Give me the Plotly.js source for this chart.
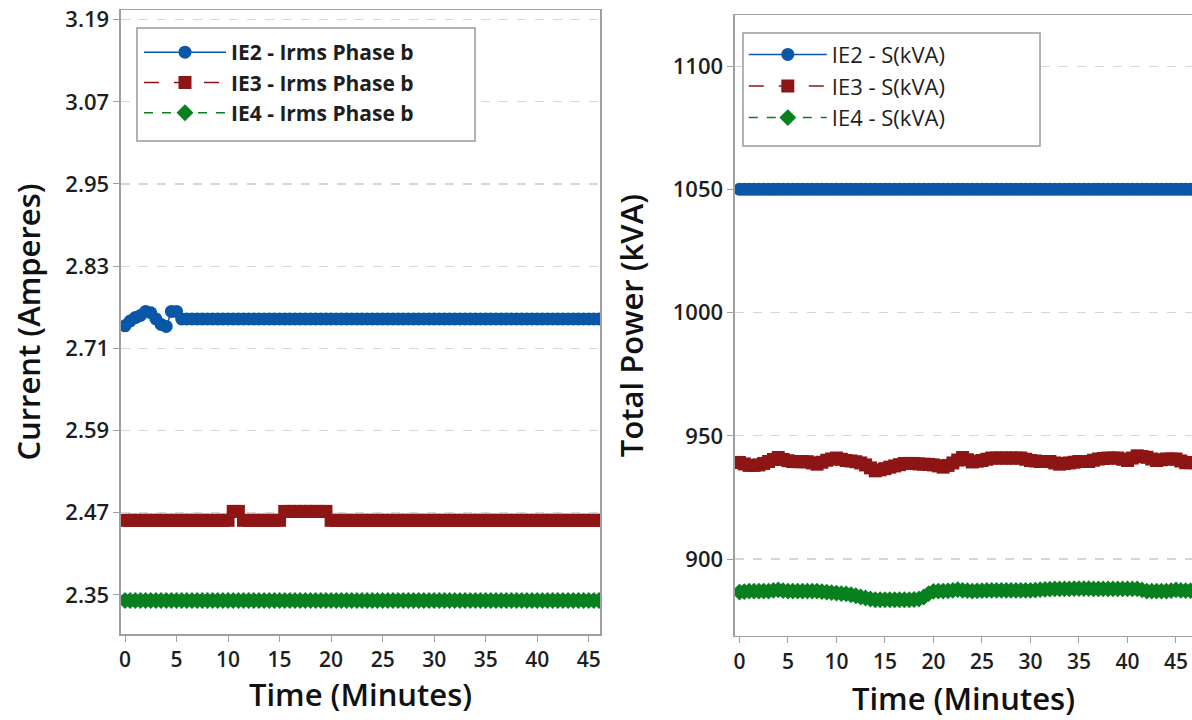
<!DOCTYPE html>
<html>
<head>
<meta charset="utf-8">
<script src="https://cdn.plot.ly/plotly-3.0.1.min.js"></script>
<style>
  html, body { margin: 0; padding: 0; background: #fff; }
  #chart { width: 1192px; height: 720px; }
</style>
</head>
<body>
<div id="chart"></div>
<script>
// Sample times, one reading every half minute (each row covers 5 minutes)
const minutes = [
  0, 0.5, 1, 1.5, 2, 2.5, 3, 3.5, 4, 4.5,
  5, 5.5, 6, 6.5, 7, 7.5, 8, 8.5, 9, 9.5,
  10, 10.5, 11, 11.5, 12, 12.5, 13, 13.5, 14, 14.5,
  15, 15.5, 16, 16.5, 17, 17.5, 18, 18.5, 19, 19.5,
  20, 20.5, 21, 21.5, 22, 22.5, 23, 23.5, 24, 24.5,
  25, 25.5, 26, 26.5, 27, 27.5, 28, 28.5, 29, 29.5,
  30, 30.5, 31, 31.5, 32, 32.5, 33, 33.5, 34, 34.5,
  35, 35.5, 36, 36.5, 37, 37.5, 38, 38.5, 39, 39.5,
  40, 40.5, 41, 41.5, 42, 42.5, 43, 43.5, 44, 44.5,
  45, 45.5, 46, 46.5, 47
];

// Phase b RMS current (A)
const irmsIE2 = [
  2.743, 2.750, 2.755, 2.758, 2.764, 2.762, 2.753, 2.745, 2.742, 2.764,
  2.764, 2.753, 2.753, 2.753, 2.753, 2.753, 2.753, 2.753, 2.753, 2.753,
  2.753, 2.753, 2.753, 2.753, 2.753, 2.753, 2.753, 2.753, 2.753, 2.753,
  2.753, 2.753, 2.753, 2.753, 2.753, 2.753, 2.753, 2.753, 2.753, 2.753,
  2.753, 2.753, 2.753, 2.753, 2.753, 2.753, 2.753, 2.753, 2.753, 2.753,
  2.753, 2.753, 2.753, 2.753, 2.753, 2.753, 2.753, 2.753, 2.753, 2.753,
  2.753, 2.753, 2.753, 2.753, 2.753, 2.753, 2.753, 2.753, 2.753, 2.753,
  2.753, 2.753, 2.753, 2.753, 2.753, 2.753, 2.753, 2.753, 2.753, 2.753,
  2.753, 2.753, 2.753, 2.753, 2.753, 2.753, 2.753, 2.753, 2.753, 2.753,
  2.753, 2.753, 2.753, 2.753, 2.753
];
const irmsIE3 = [
  2.459, 2.459, 2.459, 2.459, 2.459, 2.459, 2.459, 2.459, 2.459, 2.459,
  2.459, 2.459, 2.459, 2.459, 2.459, 2.459, 2.459, 2.459, 2.459, 2.459,
  2.459, 2.472, 2.472, 2.459, 2.459, 2.459, 2.459, 2.459, 2.459, 2.459,
  2.459, 2.472, 2.472, 2.472, 2.472, 2.472, 2.472, 2.472, 2.472, 2.472,
  2.459, 2.459, 2.459, 2.459, 2.459, 2.459, 2.459, 2.459, 2.459, 2.459,
  2.459, 2.459, 2.459, 2.459, 2.459, 2.459, 2.459, 2.459, 2.459, 2.459,
  2.459, 2.459, 2.459, 2.459, 2.459, 2.459, 2.459, 2.459, 2.459, 2.459,
  2.459, 2.459, 2.459, 2.459, 2.459, 2.459, 2.459, 2.459, 2.459, 2.459,
  2.459, 2.459, 2.459, 2.459, 2.459, 2.459, 2.459, 2.459, 2.459, 2.459,
  2.459, 2.459, 2.459, 2.459, 2.459
];
const irmsIE4 = [
  2.342, 2.342, 2.342, 2.342, 2.342, 2.342, 2.342, 2.342, 2.342, 2.342,
  2.342, 2.342, 2.342, 2.342, 2.342, 2.342, 2.342, 2.342, 2.342, 2.342,
  2.342, 2.342, 2.342, 2.342, 2.342, 2.342, 2.342, 2.342, 2.342, 2.342,
  2.342, 2.342, 2.342, 2.342, 2.342, 2.342, 2.342, 2.342, 2.342, 2.342,
  2.342, 2.342, 2.342, 2.342, 2.342, 2.342, 2.342, 2.342, 2.342, 2.342,
  2.342, 2.342, 2.342, 2.342, 2.342, 2.342, 2.342, 2.342, 2.342, 2.342,
  2.342, 2.342, 2.342, 2.342, 2.342, 2.342, 2.342, 2.342, 2.342, 2.342,
  2.342, 2.342, 2.342, 2.342, 2.342, 2.342, 2.342, 2.342, 2.342, 2.342,
  2.342, 2.342, 2.342, 2.342, 2.342, 2.342, 2.342, 2.342, 2.342, 2.342,
  2.342, 2.342, 2.342, 2.342, 2.342
];

// Apparent power S (kVA)
const sIE2 = [
  1050, 1050, 1050, 1050, 1050, 1050, 1050, 1050, 1050, 1050,
  1050, 1050, 1050, 1050, 1050, 1050, 1050, 1050, 1050, 1050,
  1050, 1050, 1050, 1050, 1050, 1050, 1050, 1050, 1050, 1050,
  1050, 1050, 1050, 1050, 1050, 1050, 1050, 1050, 1050, 1050,
  1050, 1050, 1050, 1050, 1050, 1050, 1050, 1050, 1050, 1050,
  1050, 1050, 1050, 1050, 1050, 1050, 1050, 1050, 1050, 1050,
  1050, 1050, 1050, 1050, 1050, 1050, 1050, 1050, 1050, 1050,
  1050, 1050, 1050, 1050, 1050, 1050, 1050, 1050, 1050, 1050,
  1050, 1050, 1050, 1050, 1050, 1050, 1050, 1050, 1050, 1050,
  1050, 1050, 1050, 1050, 1050
];
const sIE3 = [
  939.2, 938.6, 938.0, 938.0, 938.2, 938.8, 939.6, 940.4, 941.2, 940.4,
  939.9, 939.6, 939.5, 939.5, 939.5, 939.0, 938.5, 939.3, 940.1, 940.6,
  941.0, 940.5, 940.0, 939.8, 939.5, 939.0, 938.2, 937.0, 935.8, 936.2,
  936.7, 937.3, 937.8, 938.3, 938.8, 938.8, 938.8, 938.6, 938.5, 938.4,
  938.2, 937.8, 937.3, 938.0, 939.0, 940.2, 941.2, 940.3, 939.4, 939.7,
  940.0, 940.5, 941.0, 941.0, 941.0, 941.0, 941.0, 941.0, 941.0, 940.5,
  940.0, 939.8, 939.6, 939.6, 939.6, 939.0, 938.5, 938.8, 939.0, 939.3,
  939.6, 939.6, 939.6, 940.1, 940.6, 940.8, 941.0, 941.0, 941.0, 940.5,
  940.0, 941.0, 941.9, 941.6, 941.3, 940.6, 940.0, 940.3, 940.6, 940.6,
  940.6, 939.8, 939.1, 939.1, 939.1
];
const sIE4 = [
  886.6, 886.8, 887.0, 887.0, 887.0, 887.0, 887.0, 887.3, 887.5, 887.2,
  887.0, 887.0, 887.0, 887.0, 887.0, 887.0, 887.0, 886.8, 886.6, 886.4,
  886.2, 886.0, 885.9, 885.5, 885.1, 884.6, 884.2, 883.8, 883.5, 883.5,
  883.5, 883.5, 883.5, 883.5, 883.5, 883.5, 883.6, 883.8, 884.6, 886.0,
  886.9, 887.0, 887.0, 887.1, 887.3, 887.6, 887.3, 887.2, 887.0, 887.1,
  887.2, 887.3, 887.3, 887.3, 887.3, 887.3, 887.3, 887.3, 887.3, 887.3,
  887.3, 887.4, 887.6, 887.7, 887.8, 887.9, 887.9, 887.9, 887.9, 888.0,
  888.0, 888.0, 888.0, 887.9, 887.9, 887.9, 887.9, 887.9, 887.9, 887.9,
  887.9, 887.9, 887.9, 887.5, 887.0, 887.0, 887.0, 887.0, 887.0, 887.2,
  887.5, 887.3, 887.2, 887.2, 887.2
];

const currentTicks = [2.35, 2.47, 2.59, 2.71, 2.83, 2.95, 3.07, 3.19];
const powerTicks = [900, 950, 1000, 1050, 1100];
const timeTicks = [0, 5, 10, 15, 20, 25, 30, 35, 40, 45];

const BLUE = '#0a57a8';
const RED = '#8e1515';
const GREEN = '#08801f';
const FONT = '"Open Sans", "Noto Sans", sans-serif';

function series(x, y, name, color, symbol, dash, xa, ya, legend) {
  return {
    type: 'scatter', mode: 'lines+markers',
    x: x, y: y, name: name,
    xaxis: xa, yaxis: ya, legend: legend,
    line: {color: color, width: 1.5, dash: dash},
    marker: {color: color, symbol: symbol, size: 13}
  };
}

const traces = [
  series(minutes, irmsIE2, 'IE2 - Irms Phase b', BLUE, 'circle', 'solid', 'x', 'y', 'legend'),
  series(minutes, irmsIE3, 'IE3 - Irms Phase b', RED, 'square', 'longdash', 'x', 'y', 'legend'),
  series(minutes, irmsIE4, 'IE4 - Irms Phase b', GREEN, 'diamond', 'dash', 'x', 'y', 'legend'),
  series(minutes, sIE2, 'IE2 - S(kVA)', BLUE, 'circle', 'solid', 'x2', 'y2', 'legend2'),
  series(minutes, sIE3, 'IE3 - S(kVA)', RED, 'square', 'longdash', 'x2', 'y2', 'legend2'),
  series(minutes, sIE4, 'IE4 - S(kVA)', GREEN, 'diamond', 'dash', 'x2', 'y2', 'legend2')
];

const xTickFont = {family: FONT, size: 21, color: '#1e1e1e', weight: 600};
const yTickFont = {family: FONT, size: 22, color: '#1e1e1e', weight: 600};
const titleFont = {family: FONT, size: 31, color: '#111', weight: 600};

function xAxis(domain, range, anchor, standoff) {
  return {
    domain: domain, range: range, anchor: anchor,
    tickmode: 'array', tickvals: timeTicks,
    ticks: 'outside', ticklen: 6, tickcolor: '#a0a0a0', tickwidth: 1,
    showline: true, linecolor: '#a0a0a0', linewidth: 1.5, mirror: true,
    showgrid: false, zeroline: false,
    tickfont: xTickFont,
    title: {text: 'Time (Minutes)', font: titleFont, standoff: standoff},
    automargin: false
  };
}

function yAxis(domain, range, anchor, ticks, title, mirror, fmt, standoff) {
  return {
    domain: domain, range: range, anchor: anchor,
    tickmode: 'array', tickvals: ticks, tickformat: fmt,
    ticks: 'outside', ticklen: 6, tickcolor: '#a0a0a0', tickwidth: 1,
    showline: true, linecolor: '#a0a0a0', linewidth: 1.5, mirror: mirror,
    showgrid: true, gridcolor: '#d6d6d6', gridwidth: 1.2, griddash: 'dash',
    zeroline: false,
    tickfont: yTickFont,
    title: {text: title, font: titleFont, standoff: standoff},
    automargin: false
  };
}

// Legend frames are drawn as white boxes so they mask the gridlines behind them
function legendBox(x0, x1, y0, y1) {
  return {
    type: 'rect', xref: 'paper', yref: 'paper', layer: 'above',
    x0: x0, x1: x1, y0: y0, y1: y1,
    fillcolor: '#ffffff', line: {color: '#9a9a9a', width: 1.5}
  };
}

const legendBase = {
  xanchor: 'left', yanchor: 'top',
  bgcolor: 'rgba(0,0,0,0)', borderwidth: 0, tracegroupgap: 0
};

const layout = {
  width: 1192, height: 720,
  margin: {l: 0, r: 0, t: 0, b: 0},
  paper_bgcolor: '#fff', plot_bgcolor: '#fff',
  showlegend: true,
  xaxis: xAxis([0.1015, 0.5034], [-0.39, 46.1], 'y', 11),
  yaxis: yAxis([0.1194, 0.9861], [2.293, 3.204], 'x', currentTicks, 'Current (Amperes)', true, '.2f', 15),
  xaxis2: xAxis([0.6166, 1.0], [-0.46, 46.65], 'y2', 14),
  yaxis2: yAxis([0.1167, 0.979], [868.8, 1120.7], 'x2', powerTicks, 'Total Power (kVA)', false, 'd', 20),
  shapes: [
    legendBox(0.1149, 0.3985, 0.8042, 0.9611),
    legendBox(0.6233, 0.8725, 0.7972, 0.9542)
  ],
  legend: Object.assign({}, legendBase, {
    x: 0.1166, y: 0.9555, itemwidth: 82,
    font: {family: FONT, size: 21, color: '#1e1e1e', weight: 700}
  }),
  legend2: Object.assign({}, legendBase, {
    x: 0.624, y: 0.9533, itemwidth: 78,
    font: {family: FONT, size: 22, color: '#1e1e1e'}
  })
};

Plotly.newPlot('chart', traces, layout, {displayModeBar: false, staticPlot: true});
</script>
</body>
</html>
